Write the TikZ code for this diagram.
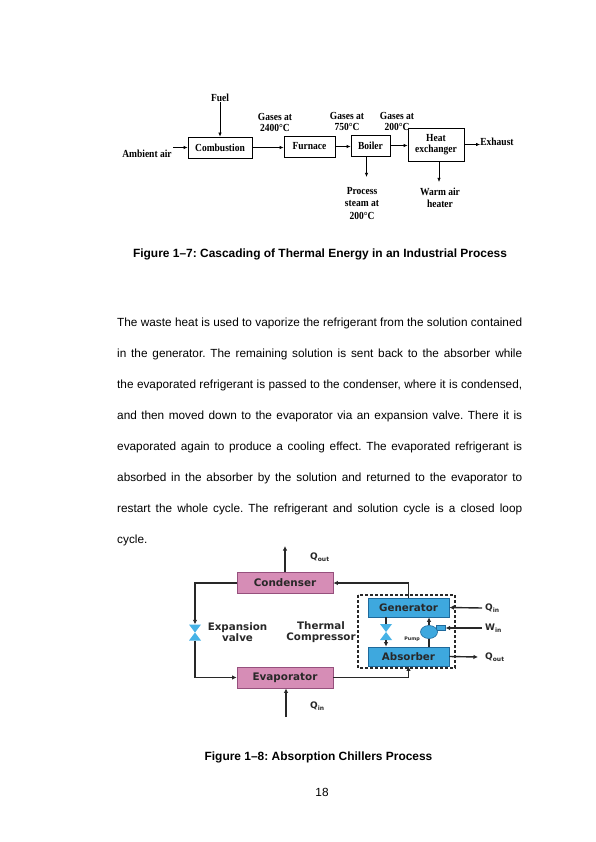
\documentclass[tikz,border=0pt]{standalone}
\usepackage{fontspec}
\setmainfont{Liberation Sans}
\newfontfamily\tnr[FakeStretch=0.88]{Liberation Serif}
\newfontfamily\dvs{DejaVu Sans}
\usetikzlibrary{arrows.meta,shapes.geometric}
\definecolor{pinkfill}{RGB}{214,141,182}
\definecolor{pinkdraw}{RGB}{150,80,125}
\definecolor{bluefill}{RGB}{62,168,222}
\definecolor{bluedraw}{RGB}{30,105,155}
\definecolor{valvecol}{RGB}{70,178,230}
\definecolor{dk}{RGB}{40,40,40}
\newcommand\subl[1]{\raisebox{-1.8pt}{\fontsize{6}{6}\selectfont #1}}
\frenchspacing
\begin{document}
\begin{tikzpicture}[x=1pt,y=-1pt,
  tbox/.style={draw, line width=0.6pt, inner sep=0pt, align=center,
    font=\tnr\bfseries\fontsize{10.8}{11.5}\selectfont},
  tlab/.style={inner sep=0pt, align=center, font=\tnr\bfseries\fontsize{10.8}{11.5}\selectfont},
  tarr/.style={line width=0.6pt, -{Latex[length=4pt,width=3.2pt]}},
  figcap/.style={inner sep=0pt, font=\bfseries\fontsize{11.95}{14}\selectfont},
  pline/.style={inner sep=0pt, anchor=base west, font=\fontsize{11.8}{14}\selectfont\frenchspacing},
  pbox/.style={draw=pinkdraw, fill=pinkfill, line width=0.8pt, inner sep=0pt,
    minimum width=96pt, minimum height=21pt, text=dk, font=\dvs\bfseries\fontsize{10.4}{12}\selectfont},
  bbox/.style={draw=bluedraw, fill=bluefill, line width=0.8pt, inner sep=0pt,
    minimum width=81pt, minimum height=19pt, text=dk, font=\dvs\bfseries\fontsize{10.3}{12}\selectfont},
  blab/.style={inner sep=0pt, align=center, text=dk, font=\dvs\bfseries\fontsize{10.3}{10.5}\selectfont},
  qlab/.style={inner sep=0pt, anchor=west, text=dk, font=\dvs\bfseries\fontsize{9}{10}\selectfont},
  bline/.style={draw=dk, line width=1.4pt},
  barr/.style={draw=dk, line width=1.4pt, -{Latex[length=4.5pt,width=4.5pt]}},
  valve/.style={inner sep=0pt, minimum width=12pt, minimum height=16pt,
    path picture={\fill[valvecol] (path picture bounding box.north west) -- (path picture bounding box.north east)
      -- (path picture bounding box.south west) -- (path picture bounding box.south east) -- cycle;}}
]
\useasboundingbox[fill=white] (0,0) rectangle (595,842);

% ---------- Figure 1-7 ----------
\node[tbox, minimum width=64pt, minimum height=21pt] (comb) at (220,147.5) {Combustion};
\node[tbox, minimum width=51pt, minimum height=21pt] (furn) at (309.5,146.5) {Furnace};
\node[tbox, minimum width=39pt, minimum height=21pt] (boil) at (370.5,145.5) {Boiler};
\node[tbox, minimum width=56pt, minimum height=33pt] (hx) at (436,144.5) {Heat\\exchanger};
\node[tlab] (fuel) at (220,98) {Fuel};
\node[tlab] (amb) at (147,154) {Ambient air};
\node[tlab] (exh) at (497,141.5) {Exhaust};
\node[tlab] (g1) at (275,122.5) {Gases at\\2400°C};
\node[tlab] (g2) at (347,121.5) {Gases at\\750°C};
\node[tlab] (g3) at (397,121.5) {Gases at\\200°C};
\node[tlab, font=\tnr\bfseries\fontsize{10.8}{12.5}\selectfont] (pst) at (362,203.5) {Process\\steam at\\200°C};
\node[tlab, font=\tnr\bfseries\fontsize{10.8}{12}\selectfont] (wah) at (440,198) {Warm air\\heater};
\coordinate (ambend) at (173,147.5);
\coordinate (pstend) at (366.5,177);
\coordinate (wahend) at (439,182);
\draw[tarr] (ambend) -- (comb.west);
\draw[tarr] (fuel.south) -- (comb.north);
\draw[tarr] (comb.east) -- (comb.east -| furn.west);
\draw[tarr] (furn.east) -- (furn.east -| boil.west);
\draw[tarr] (boil.east) -- (boil.east -| hx.west);
\draw[tarr] (hx.east) -- (hx.east -| exh.west);
\draw[tarr] (pstend |- boil.south) -- (pstend);
\draw[tarr] (wahend |- hx.south) -- (wahend);

\node[figcap] (cap1) at (320,254) {Figure 1–7: Cascading of Thermal Energy in an Industrial Process};

% ---------- paragraph ----------
\node[pline] (l1) at (117,326) {\makebox[405pt][s]{The waste heat is used to vaporize the refrigerant from the solution contained}};
\node[pline] (l2) at (117,357) {\makebox[405pt][s]{in the generator. The remaining solution is sent back to the absorber while}};
\node[pline] (l3) at (117,388) {\makebox[405pt][s]{the evaporated refrigerant is passed to the condenser, where it is condensed,}};
\node[pline] (l4) at (117,419) {\makebox[405pt][s]{and then moved down to the evaporator via an expansion valve. There it is}};
\node[pline] (l5) at (117,450) {\makebox[405pt][s]{evaporated again to produce a cooling effect. The evaporated refrigerant is}};
\node[pline] (l6) at (117,481) {\makebox[405pt][s]{absorbed in the absorber by the solution and returned to the evaporator to}};
\node[pline] (l7) at (117,512) {\makebox[405pt][s]{restart the whole cycle. The refrigerant and solution cycle is a closed loop}};
\node[pline] (l8) at (117,543) {cycle.};

% ---------- Figure 1-8 ----------
\draw[dk, line width=1.3pt, dash pattern=on 3pt off 2pt] (358,595) rectangle (455,668);
\node[pbox] (cond) at (285,583) {Condenser};
\node[pbox] (evap) at (285,677.5) {Evaporator};
\node[bbox] (gen) at (408.5,607.5) {Generator};
\node[bbox] (abs) at (408.5,656.5) {Absorber};
\node[valve] (v1) at (195,632.5) {};
\node[valve] (v2) at (386,632) {};
\node[draw=bluedraw, fill=bluefill, line width=0.6pt, minimum width=9pt, minimum height=4.5pt, inner sep=0pt, anchor=west] (noz) at (436,628) {};
\node[ellipse, draw=bluedraw, fill=bluefill, line width=0.6pt, minimum width=17pt, minimum height=13pt, inner sep=0pt] (pump) at (429,632) {};
\node[inner sep=0pt, text=dk, font=\dvs\bfseries\fontsize{4.8}{5}\selectfont] (pumplab) at (412,639) {Pump};
\node[blab] (exv) at (237.5,632) {Expansion\\valve};
\node[blab] (thc) at (321,632) {Thermal\\Compressor};

\node[qlab] (qout1) at (310,557) {Q\subl{out}};
\node[qlab] (qin1) at (310,706) {Q\subl{in}};
\node[qlab] (qin2) at (485,608) {Q\subl{in}};
\node[qlab] (win) at (485,628.5) {W\subl{in}};
\node[qlab] (qout2) at (485,657) {Q\subl{out}};

\coordinate (qtop) at (285,546);
\coordinate (qbot) at (286,717);
\coordinate (qinst) at (482,608);
\coordinate (winst) at (482,628);
\coordinate (qoutend) at (478,657);

\draw[barr] (cond.north) -- (qtop);
\draw[barr] (qbot) -- (qbot |- evap.south);
\draw[barr] (gen.north) |- (cond.east);
\draw[barr] (evap.east) -| (abs.south);
\draw[barr] (cond.west) -| (v1.north);
\draw[barr] (v1.south) |- (evap.west);
\draw[bline] (v2 |- gen.south) -- (v2.north);
\draw[barr] (v2.south) -- (v2 |- abs.north);
\draw[bline] (pump |- abs.north) -- (pump.south);
\draw[barr] (pump.north) -- (pump |- gen.south);
\draw[barr] (qinst) -- (gen.east);
\draw[barr] (winst) -- (noz.east);
\draw[barr] (abs.east) -- (qoutend);

\node[figcap] (cap2) at (318.5,757) {Figure 1–8: Absorption Chillers Process};
\node[inner sep=0pt, font=\fontsize{11.8}{14}\selectfont] (pg) at (322,792) {18};
\end{tikzpicture}
\end{document}
